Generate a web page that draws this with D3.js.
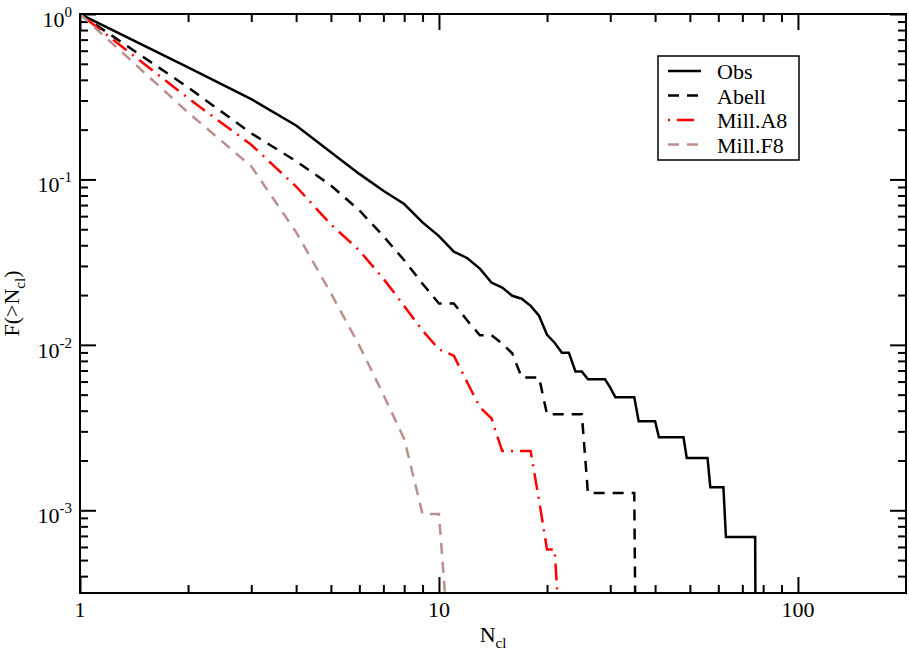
<!DOCTYPE html>
<html>
<head>
<meta charset="utf-8">
<script src="https://cdn.jsdelivr.net/npm/d3@7"></script>
<style>
  body { margin: 0; background: #fff; }
  svg { display: block; font-family: "Liberation Serif", "Times New Roman", serif; }
</style>
</head>
<body>
<svg id="chart"></svg>
<script>
// N_cl values and cumulative fraction F(>N_cl) for each sample
// (only the vertices of each curve, flat stretches are given by their two ends)
const obsN = [1, 2, 3, 4, 5, 6, 7, 8, 9, 10, 11, 12, 13, 14, 15, 16, 17, 18, 19, 20, 21,
              22, 23, 24, 25, 26, 29, 30, 31, 35, 36, 40, 41, 48, 49, 56, 57, 62, 63, 76, 77];
const obsF = [1, 0.475, 0.306, 0.212, 0.146, 0.108, 0.0855, 0.071, 0.055, 0.0454, 0.0366,
              0.0334, 0.0289, 0.0238, 0.0222, 0.0198, 0.019, 0.0172, 0.015, 0.0115, 0.0103,
              0.00897, 0.00897, 0.0069, 0.0069, 0.0062, 0.0062, 0.00552, 0.00483, 0.00483,
              0.00345, 0.00345, 0.00276, 0.00276, 0.00207, 0.00207, 0.00138, 0.00138,
              0.00069, 0.00069, 0.000001];

const abellN = [1, 2, 3, 4, 5, 6, 7, 8, 9, 10, 11, 12, 13, 14, 15, 16, 17, 19, 20, 25, 26, 35, 36];
const abellF = [1, 0.36, 0.19, 0.129, 0.092, 0.0651, 0.0454, 0.0325, 0.0234, 0.0178, 0.0178,
                0.014, 0.01144, 0.01144, 0.01017, 0.00889, 0.00635, 0.00635, 0.00381, 0.00381,
                0.00127, 0.00127, 0.000001];

const millA8N = [1, 2, 3, 4, 5, 6, 7, 8, 9, 10, 11, 12, 13, 14, 15, 18, 19, 20, 21, 22];
const millA8F = [1, 0.31, 0.162, 0.0906, 0.0534, 0.0372, 0.0251, 0.0172, 0.0122, 0.0094,
                 0.0086, 0.0059, 0.0042, 0.0036, 0.00228, 0.00228, 0.00115, 0.00058, 0.00058,
                 0.00011];

const millF8N = [1, 2, 3, 4, 5, 6, 7, 8, 9, 10, 11];
const millF8F = [1, 0.254, 0.12, 0.048, 0.0205, 0.0099, 0.005, 0.0027, 0.00095, 0.00095, 0.00006];

const seriesNames = ['Obs', 'Abell', 'Mill.A8', 'Mill.F8'];

// labelled ticks
const xTickValues = [1, 10, 100];
const xTickLabels = ['1', '10', '100'];
const yTickValues = [1, 0.1, 0.01, 0.001];
const yTickExponents = ['0', '-1', '-2', '-3'];

class CumulativeChart {
  constructor(_config, _series) {
    this.config = {
      parentElement: _config.parentElement,
      containerWidth: _config.containerWidth || 909,
      containerHeight: _config.containerHeight || 652,
      margin: {top: 14, right: 3, bottom: 59, left: 80},
      majorTick: 16,
      minorTick: 8
    };
    this.series = _series;
    this.initVis();
  }

  initVis() {
    let vis = this;

    vis.width = vis.config.containerWidth - vis.config.margin.left - vis.config.margin.right;
    vis.height = vis.config.containerHeight - vis.config.margin.top - vis.config.margin.bottom;

    vis.svg = d3.select(vis.config.parentElement)
        .attr('width', vis.config.containerWidth)
        .attr('height', vis.config.containerHeight);

    vis.xScale = d3.scaleLog()
        .domain([1, 200])
        .range([0, vis.width]);

    vis.yScale = d3.scaleLog()
        .domain([Math.pow(10, -3.5), 1])
        .range([vis.height, 0]);

    vis.chart = vis.svg.append('g')
        .attr('transform', `translate(${vis.config.margin.left},${vis.config.margin.top})`);

    vis.chart.append('clipPath')
        .attr('id', 'plot-clip')
      .append('rect')
        .attr('width', vis.width)
        .attr('height', vis.height);

    vis.line = d3.line()
        .x(d => vis.xScale(d[0]))
        .y(d => vis.yScale(d[1]));

    vis.renderVis();
  }

  renderVis() {
    let vis = this;
    const isDecade = v => Math.abs(Math.log10(v) - Math.round(Math.log10(v))) < 1e-6;
    const xMinor = vis.xScale.ticks().filter(v => !isDecade(v) && v < 200);
    const yMinor = vis.yScale.ticks().filter(v => !isDecade(v));

    // ticks on all four sides, pointing inwards
    const addAxis = (axisFn, scale, values, size, transform) => {
      vis.chart.append('g')
          .attr('class', 'axis')
          .attr('transform', transform)
          .call(axisFn(scale).tickValues(values).tickSize(-size).tickFormat(''))
          .call(g => g.select('.domain').remove())
          .call(g => g.selectAll('.tick line').attr('stroke', '#000').attr('stroke-width', 2));
    };
    const M = vis.config.majorTick, m = vis.config.minorTick;
    addAxis(d3.axisBottom, vis.xScale, xTickValues, M, `translate(0,${vis.height})`);
    addAxis(d3.axisBottom, vis.xScale, xMinor, m, `translate(0,${vis.height})`);
    addAxis(d3.axisTop, vis.xScale, xTickValues, M, 'translate(0,0)');
    addAxis(d3.axisTop, vis.xScale, xMinor, m, 'translate(0,0)');
    addAxis(d3.axisLeft, vis.yScale, yTickValues, M, 'translate(0,0)');
    addAxis(d3.axisLeft, vis.yScale, yMinor, m, 'translate(0,0)');
    addAxis(d3.axisRight, vis.yScale, yTickValues, M, `translate(${vis.width},0)`);
    addAxis(d3.axisRight, vis.yScale, yMinor, m, `translate(${vis.width},0)`);

    // curves
    vis.chart.append('g')
        .attr('clip-path', 'url(#plot-clip)')
      .selectAll('.curve')
      .data(vis.series)
      .join('path')
        .attr('class', 'curve')
        .attr('d', d => vis.line(d.points))
        .attr('fill', 'none')
        .attr('stroke', d => d.color)
        .attr('stroke-width', 2.5)
        .attr('stroke-dasharray', d => d.dash)
        .attr('stroke-linejoin', 'miter');

    // frame
    vis.chart.append('rect')
        .attr('width', vis.width)
        .attr('height', vis.height)
        .attr('fill', 'none')
        .attr('stroke', '#000')
        .attr('stroke-width', 2);

    // x tick labels
    vis.chart.selectAll('.x-label')
      .data(xTickValues)
      .join('text')
        .attr('class', 'x-label')
        .attr('x', d => vis.xScale(d))
        .attr('y', vis.height + 24)
        .attr('text-anchor', 'middle')
        .attr('font-size', 22)
        .text((d, i) => xTickLabels[i]);

    // y tick labels as 10^k
    const yLab = vis.chart.selectAll('.y-label')
      .data(yTickValues)
      .join('text')
        .attr('class', 'y-label')
        .attr('x', -8)
        .attr('y', d => vis.yScale(d) + 13)
        .attr('text-anchor', 'end')
        .attr('font-size', 22);
    yLab.append('tspan').text('10');
    yLab.append('tspan')
        .attr('font-size', 15)
        .attr('dy', -10)
        .text((d, i) => yTickExponents[i]);

    // axis titles
    const xt = vis.chart.append('text')
        .attr('x', vis.width / 2)
        .attr('y', vis.height + 49)
        .attr('text-anchor', 'middle')
        .attr('font-size', 22);
    xt.append('tspan').text('N');
    xt.append('tspan').attr('font-size', 15).attr('dy', 6).text('cl');

    const yt = vis.chart.append('text')
        .attr('transform', `translate(${-61},${vis.height / 2}) rotate(-90)`)
        .attr('text-anchor', 'middle')
        .attr('font-size', 22);
    yt.append('tspan').text('F(>N');
    yt.append('tspan').attr('font-size', 15).attr('dy', 6).text('cl');
    yt.append('tspan').attr('dy', -6).text(')');

    // legend
    const legend = vis.svg.append('g')
        .attr('transform', 'translate(658,56)');
    legend.append('rect')
        .attr('width', 141)
        .attr('height', 104)
        .attr('fill', '#fff')
        .attr('stroke', '#000')
        .attr('stroke-width', 1.5);
    const rows = legend.selectAll('.legend-row')
      .data(vis.series)
      .join('g')
        .attr('class', 'legend-row')
        .attr('transform', (d, i) => `translate(0,${15 + i * 24.5})`);
    rows.append('line')
        .attr('x1', 10)
        .attr('x2', 43)
        .attr('stroke', d => d.color)
        .attr('stroke-width', 2.5)
        .attr('stroke-dasharray', d => d.dash);
    rows.append('text')
        .attr('x', 59)
        .attr('y', 8)
        .attr('font-size', 22)
        .text(d => d.name);
  }
}

const series = [
  {name: seriesNames[0], points: d3.zip(obsN, obsF), color: '#000000', dash: null},
  {name: seriesNames[1], points: d3.zip(abellN, abellF), color: '#000000', dash: '11,8'},
  {name: seriesNames[2], points: d3.zip(millA8N, millA8F), color: '#ff0000', dash: '2,7,17,7'},
  {name: seriesNames[3], points: d3.zip(millF8N, millF8F), color: '#bc8f8f', dash: '11,8'}
];

new CumulativeChart({parentElement: '#chart'}, series);
</script>
</body>
</html>
